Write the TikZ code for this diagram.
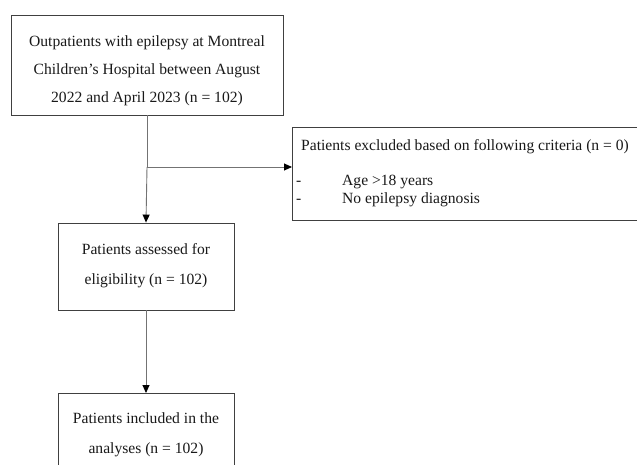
\documentclass[tikz,border=0pt]{standalone}
\usepackage{fontspec}
\setmainfont{Liberation Serif}
\usetikzlibrary{arrows.meta}
\begin{document}
\begin{tikzpicture}[x=1pt,y=-1pt,
  box/.style={draw=black!75,line width=0.9pt,inner sep=0pt},
  txt/.style={inner sep=0pt,font=\fontsize{15.6}{28}\selectfont,text=black!90},
  txtw/.style={inner sep=0pt,font=\fontsize{15.6}{30}\selectfont,text=black!90},
  line/.style={draw=black!55,line width=0.9pt},
  conn/.style={line,-{Triangle[length=8pt,width=7pt,color=black]}}]
\useasboundingbox (0,0) rectangle (637,464);
\clip (0,0) rectangle (637,464);
\fill[white] (0,0) rectangle (637,464);
\node[box,minimum width=272,minimum height=100] (b1) at (147,65) {};
\node[txt,align=center] (t1) at (147,71) {Outpatients with epilepsy at Montreal\\Children’s Hospital between August\\2022 and April 2023 (n = 102)};
\node[box,minimum width=353,minimum height=93,anchor=north west] (b2) at (292,127) {};
\node[txt,anchor=west] (t2a) at (301,147) {Patients excluded based on following criteria (n = 0)};
\node[txt,anchor=west] (d1) at (296,183) {-};
\node[txt,anchor=west] (t2b) at (342,182) {Age >18 years};
\node[txt,anchor=west] (d2) at (296,201) {-};
\node[txt,anchor=west] (t2c) at (342,200) {No epilepsy diagnosis};
\node[box,minimum width=176,minimum height=87] (b3) at (146,266.5) {};
\node[txtw,align=center] (t3) at (146,266) {Patients assessed for\\eligibility (n = 102)};
\node[box,minimum width=176,minimum height=84,anchor=north] (b4) at (146,393) {};
\node[txtw,align=center] (t4) at (146,435) {Patients included in the\\analyses (n = 102)};
\coordinate (j) at (b1.south |- 0,167);
\draw[line] (b1.south) -- (j);
\draw[conn] (j) -- (b3.north);
\draw[conn] (j) -- (b2.west |- j);
\draw[conn] (b3.south) -- (b4.north);
\end{tikzpicture}
\end{document}
